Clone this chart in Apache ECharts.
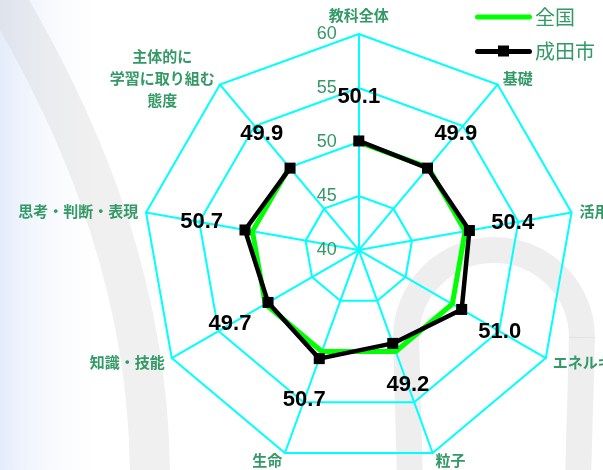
<!DOCTYPE html>
<html><head><meta charset="utf-8">
<script src="https://cdn.jsdelivr.net/npm/echarts@6/dist/echarts.min.js"></script>
<style>html,body{margin:0;padding:0;background:#fff}#c{width:603px;height:470px}</style>
</head><body><div id="c"></div>
<script>
// Categories in clockwise order starting at top
const categories = ['教科全体','基礎','活用','エネルギー','粒子','生命','知識・技能','思考・判断・表現','主体的に\n学習に取り組む\n態度'];
const national = [50.0,50.0,50.0,50.0,50.0,50.0,50.0,50.0,50.0];
const narita = [50.1,49.9,50.4,51.0,49.2,50.7,49.7,50.7,49.9];
const radialTicks = [40,45,50,55,60];
const seriesNames = ['全国','成田市'];

const GREEN_TXT = '#339966';
const CJK = '"Noto Sans CJK JP", sans-serif';
const NUM = '"Liberation Sans", Arial, sans-serif';
const rMin = radialTicks[0], rMax = radialTicks[radialTicks.length-1];
const rStep = radialTicks[1]-radialTicks[0];
const n = categories.length;
const center = ['59.5%','53.2%'];
const radius = 216;

// radar draws counter-clockwise; reorder so that indicators run clockwise
const ccw = [0].concat(categories.map((_, i) => i).slice(1).reverse());
const indicators = ccw.map(i => {
  const ind = { name: categories[i], min: rMin, max: rMax };
  if (categories[i].indexOf('\n') >= 0) ind.nameTextStyle = { verticalAlign: 'middle' };
  return ind;
});

function lineData(vals, withLabels) {
  const d = vals.map((v, i) => {
    const a = i * 2 * Math.PI / n;
    const item = { value: [v, i] };
    if (withLabels) item.label = { show: true, offset: [44 * Math.sin(a), -44 * Math.cos(a)] };
    return item;
  });
  d.push({ value: [vals[0], 0], symbolSize: 0, label: { show: false } });
  return d;
}

const chart = echarts.init(document.getElementById('c'), null, { renderer: 'canvas' });
chart.setOption({
  animation: false,
  backgroundColor: '#ffffff',
  graphic: [
    { type: 'rect', z: -10, silent: true, shape: { x: 0, y: 0, width: 110, height: 470 },
      style: { fill: new echarts.graphic.LinearGradient(0, 0, 1, 0, [
        { offset: 0, color: 'rgba(226,234,250,0.9)' }, { offset: 1, color: 'rgba(255,255,255,0)' }]) } },
    { type: 'bezierCurve', z: -9, silent: true,
      shape: { x1: 0, y1: -10, cpx1: 90, cpy1: 140, cpx2: 150, cpy2: 300, x2: 150, y2: 480 },
      style: { stroke: 'rgba(205,205,205,0.3)', lineWidth: 40, fill: null } },
    { type: 'arc', z: -9, silent: true,
      shape: { cx: 494, cy: 338, r: 88, startAngle: Math.PI, endAngle: 2 * Math.PI },
      style: { stroke: 'rgba(205,205,205,0.35)', lineWidth: 26, fill: null } },
    { type: 'line', z: -9, silent: true, shape: { x1: 406, y1: 337, x2: 410, y2: 480 },
      style: { stroke: 'rgba(205,205,205,0.35)', lineWidth: 26 } },
    { type: 'line', z: -9, silent: true, shape: { x1: 582, y1: 337, x2: 578, y2: 480 },
      style: { stroke: 'rgba(205,205,205,0.35)', lineWidth: 26 } }
  ],
  legend: {
    data: [
      { name: seriesNames[0], icon: 'path://M2.5,3H54.5A2.5,2.5 0 0 1 54.5,8H2.5A2.5,2.5 0 0 1 2.5,3Z' },
      { name: seriesNames[1], icon: 'path://M2.5,3.5H23V0H34V3.5H54.5A2.5,2.5 0 0 1 54.5,8.5H34V11H23V8.5H2.5A2.5,2.5 0 0 1 2.5,3.5Z' }
    ],
    orient: 'vertical', right: 3, top: 2,
    itemWidth: 57, itemHeight: 14, itemGap: 14,
    textStyle: { color: GREEN_TXT, fontSize: 20, fontFamily: CJK, padding: [0, 0, 0, -2] }
  },
  radar: {
    center: center, radius: radius,
    startAngle: 90, splitNumber: radialTicks.length - 1, shape: 'polygon',
    indicator: indicators,
    axisNameGap: 8,
    axisName: {
      color: GREEN_TXT, fontSize: 15, fontWeight: 'bold', fontFamily: CJK, lineHeight: 22,
      formatter: name => name.indexOf('\n') >= 0 ? name.split('\n').map(s => '{m|' + s + '}').join('\n') : name,
      rich: { m: { align: 'center', color: GREEN_TXT, fontSize: 15, fontWeight: 'bold', fontFamily: CJK, lineHeight: 22 } }
    },
    splitLine: { lineStyle: { color: '#00ffff', width: 2 } },
    axisLine: { lineStyle: { color: '#00ffff', width: 2 } },
    splitArea: { show: false },
    axisLabel: { show: false }
  },
  polar: { center: center, radius: radius },
  angleAxis: { type: 'category', data: categories, startAngle: 90, clockwise: true, boundaryGap: false, show: false },
  radiusAxis: {
    min: rMin, max: rMax, interval: rStep,
    axisLine: { show: false }, axisTick: { show: false }, splitLine: { show: false },
    axisLabel: { color: GREEN_TXT, fontSize: 18, fontFamily: NUM, margin: 22 }, z: 5
  },
  series: [
    { name: seriesNames[0], type: 'line', coordinateSystem: 'polar', data: lineData(national, false),
      symbol: 'none', lineStyle: { color: '#00ff00', width: 5 }, itemStyle: { color: '#00ff00' }, z: 3, silent: true },
    { name: seriesNames[1], type: 'line', coordinateSystem: 'polar', data: lineData(narita, true),
      symbol: 'rect', symbolSize: 11, lineStyle: { color: '#000000', width: 4.5 }, itemStyle: { color: '#000000' }, z: 4, silent: true,
      label: { show: true, position: 'inside', formatter: p => p.value[0].toFixed(1),
        color: '#000', fontSize: 22, fontWeight: 'bold', fontFamily: NUM } }
  ]
});
</script></body></html>
